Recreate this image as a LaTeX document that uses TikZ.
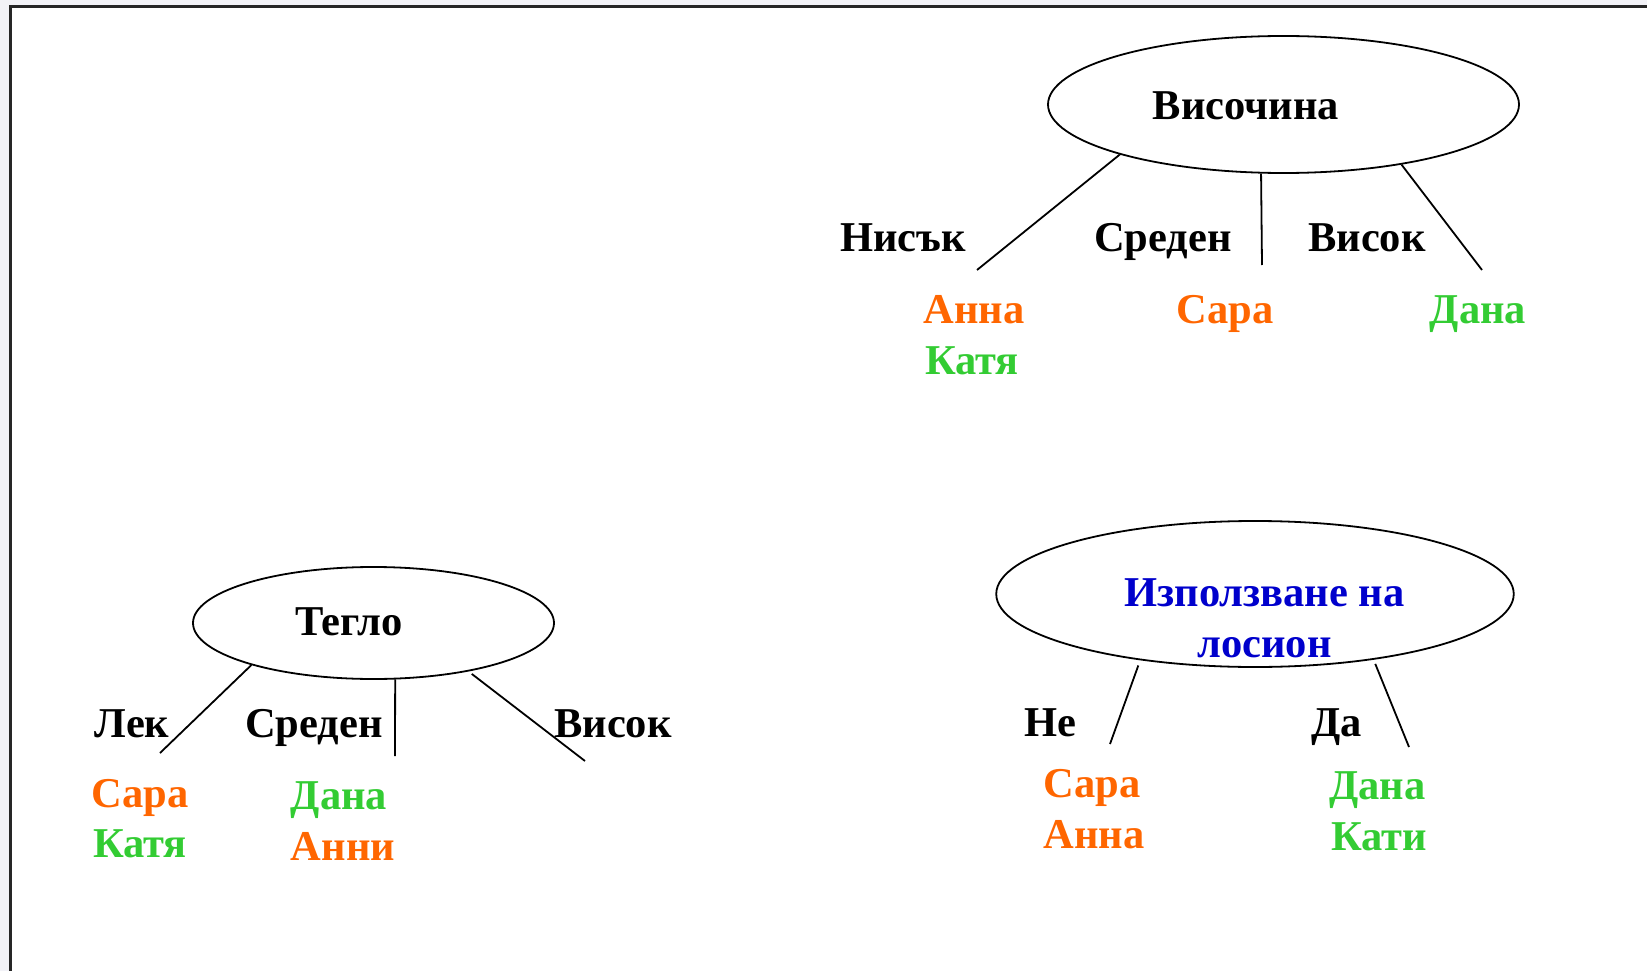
\documentclass[tikz,border=0pt]{standalone}
\usepackage{fontspec}
\setmainfont{Liberation Serif}
\usetikzlibrary{shapes.geometric}
\definecolor{leaforange}{HTML}{FF6600}
\definecolor{leafgreen}{HTML}{33CC33}
\definecolor{rootblue}{HTML}{0000CC}
\definecolor{pagegray}{HTML}{F2F2F7}
\begin{document}
\begin{tikzpicture}[x=1pt,y=-1pt,
  attr/.style={ellipse,draw,line width=1.8pt,inner sep=0pt},
  txt/.style={inner sep=0pt,anchor=base,font=\fontsize{42.5}{50}\selectfont\bfseries},
  org/.style={txt,text=leaforange},
  grn/.style={txt,text=leafgreen},
  blu/.style={txt,text=rootblue},
  edge/.style={line width=1.8pt}]
\useasboundingbox (0,0) rectangle (1647,971);
\fill[pagegray] (0,0) rectangle (1647,971);
\fill[white] (10.5,6.5) rectangle (1647,971);
\draw[line width=2.2pt,black!85] (10.5,971) -- (10.5,6.5) -- (1647,6.5);

% ---- Височина ----
\node[attr,minimum width=471pt,minimum height=137pt] (hE) at (1283.5,104.5) {};
\node[txt] (hT) at (1246,120) {Височина};
\node[txt] (hL1) at (903,251) {Нисък};
\node[txt] (hL2) at (1163,251) {Среден};
\node[txt] (hL3) at (1367,251) {Висок};
\coordinate (hA) at (977,270);
\coordinate (hB) at (1262,265);
\coordinate (hC) at (1482,270);
\draw[edge] (hE.197) -- (hA);
\draw[edge] (hE.252.5) -- (hB);
\draw[edge] (hE.333.7) -- (hC);
\node[org] (hN1) at (974,323) {Анна};
\node[grn] (hN2) at (972,374) {Катя};
\node[org] (hN3) at (1225,323) {Сара};
\node[grn] (hN4) at (1478,323) {Дана};

% ---- Тегло ----
\node[attr,minimum width=361pt,minimum height=112pt] (tE) at (373.5,623) {};
\node[txt] (tT) at (349,635) {Тегло};
\node[txt] (tL1) at (132,737) {Лек};
\node[txt] (tL2) at (314,737) {Среден};
\node[txt] (tL3) at (613,737) {Висок};
\coordinate (tA) at (160,753);
\coordinate (tB) at (395,756);
\coordinate (tC) at (585,761);
\draw[edge] (tE.199.9) -- (tA);
\draw[edge] (tE.291.1) -- (tB);
\draw[edge,shorten <=4pt] (tE.333.7) -- (tC);
\node[org] (tN1) at (140,807) {Сара};
\node[grn] (tN2) at (140,857) {Катя};
\node[grn] (tN3) at (339,809) {Дана};
\node[org] (tN4) at (343,860) {Анни};

% ---- Използване на лосион ----
\node[attr,minimum width=517.5pt,minimum height=146pt] (uE) at (1255,594) {};
\node[blu] (uT1) at (1264.5,606) {Използване на};
\node[blu] (uT2) at (1264.5,657) {лосион};
\node[txt] (uL1) at (1050.5,736) {Не};
\node[txt] (uL2) at (1336.5,736) {Да};
\coordinate (uA) at (1110,744);
\coordinate (uB) at (1409,747);
\draw[edge,shorten <=5.5pt] (uE.210.4) -- (uA);
\draw[edge,shorten <=4.5pt] (uE.331.5) -- (uB);
\node[org] (uN1) at (1092,797) {Сара};
\node[org] (uN2) at (1094,848) {Анна};
\node[grn] (uN3) at (1377.5,799) {Дана};
\node[grn] (uN4) at (1379,850) {Кати};
\end{tikzpicture}
\end{document}
